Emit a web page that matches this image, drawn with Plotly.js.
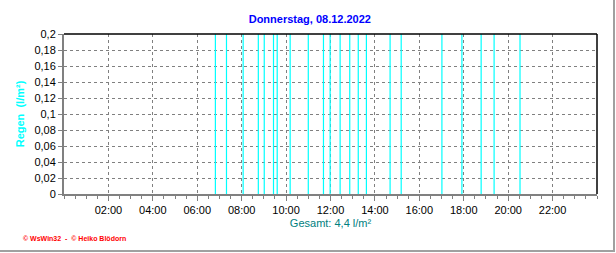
<!DOCTYPE html>
<html>
<head>
<meta charset="utf-8">
<script src="https://cdn.plot.ly/plotly-3.0.1.min.js"></script>
<style>
html,body{margin:0;padding:0;background:#fff;overflow:hidden;}
#wrap{position:relative;width:616px;height:253px;}
#chart{position:absolute;left:0;top:0;width:616px;height:253px;}
#frame{position:absolute;left:0;top:0;width:613px;height:250px;border-right:2px solid #a0a0a0;border-bottom:2px solid #a0a0a0;pointer-events:none;}
</style>
</head>
<body>
<div id="wrap"><div id="chart"></div><div id="frame"></div></div>
<script>
// Rain events (time of day) and amount per event in l/m²
const rainTimes = ["06:49","07:19","08:04","08:45","09:01","09:26","09:36","10:11","11:00","11:41","11:59",
                   "12:26","12:52","13:15","13:37","14:41","15:11","17:01","17:55","18:47","19:22","20:32"];
const rainValues = [0.2,0.2,0.2,0.2,0.2,0.2,0.2,0.2,0.2,0.2,0.2,0.2,0.2,0.2,0.2,0.2,0.2,0.2,0.2,0.2,0.2,0.2];
const xTickVals = [2,4,6,8,10,12,14,16,18,20,22];
const xTickLabels = ["02:00","04:00","06:00","08:00","10:00","12:00","14:00","16:00","18:00","20:00","22:00"];
const chartTitle = "Donnerstag, 08.12.2022";
const yTitle = "Regen  (l/m²)";
const xTitle = "Gesamt: 4,4 l/m²";
const footer = "© WsWin32  -  © Heiko Blödorn";

function toHours(s){const p=s.split(":");return (+p[0])+(+p[1])/60;}
const xs=[], ys=[];
rainTimes.forEach((t,i)=>{const h=toHours(t);xs.push(h,h,null);ys.push(0,rainValues[i],null);});

const font = "Liberation Sans, Arial, sans-serif";
const data=[{x:xs,y:ys,type:"scatter",mode:"lines",line:{color:"#00ffff",width:1.2},hoverinfo:"skip",showlegend:false}];
const layout={
  width:616,height:253,
  margin:{l:64,r:19,t:34,b:59,pad:0},
  paper_bgcolor:"#ffffff",plot_bgcolor:"#ffffff",
  separators:",.",
  font:{family:font,size:11,color:"#000"},
  title:{text:"<b>"+chartTitle+"</b>",font:{family:font,size:11,color:"#0000ff"},x:0.503,xanchor:"center",y:0.925,yanchor:"middle"},
  xaxis:{range:[0,24],tickvals:xTickVals,ticktext:xTickLabels,showgrid:true,gridcolor:"#808080",griddash:"3px,3px",gridwidth:1,
    showline:true,linecolor:"#808080",linewidth:2,ticks:"outside",ticklen:5,tickcolor:"#808080",zeroline:false,
    minor:{dtick:0.5,tick0:0,ticks:"outside",ticklen:3,tickcolor:"#808080",showgrid:false},
    tickfont:{family:font,size:11,color:"#000"},
    title:{text:xTitle,font:{family:font,size:11,color:"#008080"},standoff:4},fixedrange:true},
  yaxis:{range:[0,0.2],dtick:0.02,tick0:0,showgrid:true,gridcolor:"#808080",griddash:"3px,3px",gridwidth:1,
    showline:true,linecolor:"#808080",linewidth:2,ticks:"outside",ticklen:4,tickcolor:"#808080",zeroline:false,
    tickfont:{family:font,size:11,color:"#000"},
    title:{text:"<b>"+yTitle+"</b>",font:{family:font,size:11,color:"#00ffff"},standoff:8},fixedrange:true},
  shapes:[
    {type:"line",xref:"paper",yref:"paper",x0:0,x1:1,y0:1,y1:1,line:{color:"#000",width:1.5}},
    {type:"line",xref:"paper",yref:"paper",x0:1,x1:1,y0:0,y1:1,line:{color:"#000",width:1.5}}
  ],
  annotations:[{text:"<b>"+footer+"</b>",xref:"paper",yref:"paper",x:-0.081,y:-0.275,xanchor:"left",yanchor:"middle",
    showarrow:false,font:{family:font,size:7,color:"#ff0000"}}]
};
Plotly.newPlot("chart",data,layout,{staticPlot:true,displayModeBar:false});
</script>
</body>
</html>
